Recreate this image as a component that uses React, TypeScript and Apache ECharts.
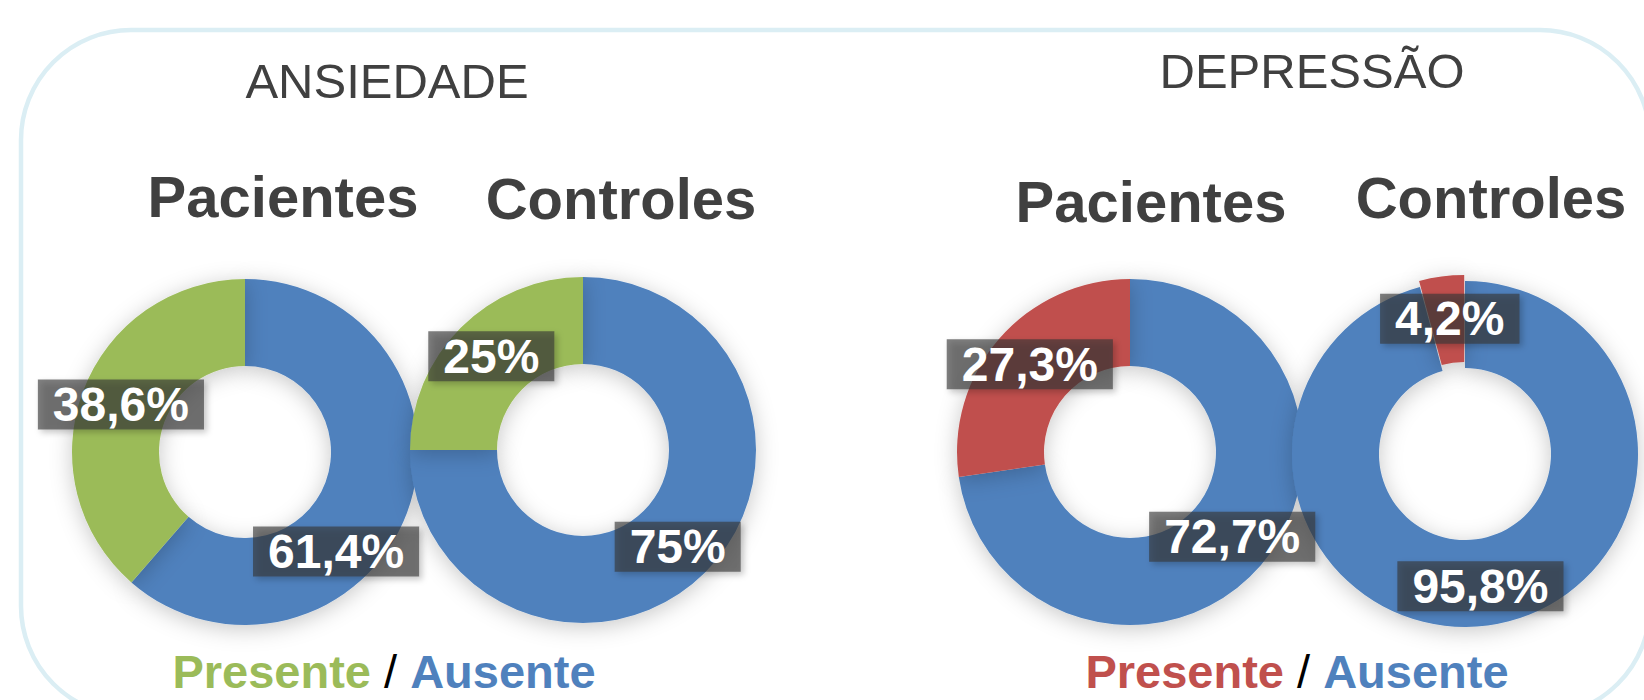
import React, { useEffect, useRef } from 'react';
import * as echarts from 'echarts';

// ---- data ----
const conditions = ['ANSIEDADE', 'DEPRESSÃO'];
const groups = ['Pacientes', 'Controles'];
const statusNames = ['Ausente', 'Presente'];
const ansiedadeAusente = [61.4, 75];
const ansiedadePresente = [38.6, 25];
const depressaoAusente = [72.7, 95.8];
const depressaoPresente = [27.3, 4.2];

// ---- styles ----
const BLUE = '#4F81BD';
const GREEN = '#9BBB59';
const RED = '#C0504D';
const DARK = '#404040';
const FONT = '"Liberation Sans", Arial, sans-serif';

// label nudges (dx, dy) per donut, per slice [Ausente, Presente]
const labelNudges: number[][][] = [
  [[-33, 53], [0, -1]],
  [[1, 3], [2, 0]],
  [[2, -2], [0, -1]],
  [[-2, 1], [3, 2]],
];

const fmt = (v: number) => String(v).replace('.', ',') + '%';

function donut(
  center: number[],
  ausente: number,
  presente: number,
  presentColor: string,
  explode: boolean,
  nudges: number[][]
) {
  return {
    type: 'pie',
    center,
    radius: [86, 173],
    startAngle: 90,
    clockwise: true,
    avoidLabelOverlap: false,
    selectedMode: explode ? 'single' : false,
    selectedOffset: 6,
    emphasis: { disabled: true },
    select: { itemStyle: {}, label: {} },
    itemStyle: {
      shadowBlur: 22,
      shadowColor: 'rgba(0,0,0,0.22)',
      shadowOffsetY: 4,
    },
    label: {
      show: true,
      position: 'inside',
      formatter: (p: any) => fmt(p.value),
      color: '#fff',
      fontSize: 48,
      fontWeight: 'bold',
      fontFamily: FONT,
      lineHeight: 46,
      textBorderWidth: 0,
      backgroundColor: 'rgba(53,53,53,0.63)',
      padding: [2, 15],
      shadowBlur: 6,
      shadowColor: 'rgba(0,0,0,0.35)',
      shadowOffsetX: 3,
      shadowOffsetY: 3,
    },
    labelLine: { show: false },
    labelLayout: (p: any) => ({ dx: nudges[p.dataIndex][0], dy: nudges[p.dataIndex][1] }),
    data: [
      { name: statusNames[0], value: ausente, itemStyle: { color: BLUE } },
      { name: statusNames[1], value: presente, selected: explode, itemStyle: { color: presentColor } },
    ],
  };
}

function legendText(x: number, y: number, presentColor: string) {
  return {
    type: 'text',
    x,
    y,
    style: {
      text: '{p|' + statusNames[1] + '}{s| / }{a|' + statusNames[0] + '}',
      align: 'center',
      verticalAlign: 'middle',
      rich: {
        p: { fill: presentColor, fontSize: 47, fontWeight: 'bold', fontFamily: FONT },
        s: { fill: '#000', fontSize: 47, fontWeight: 'normal', fontFamily: FONT },
        a: { fill: BLUE, fontSize: 47, fontWeight: 'bold', fontFamily: FONT },
      },
    },
  };
}

function textEl(text: string, x: number, y: number, size: number, weight: string) {
  return {
    type: 'text',
    x,
    y,
    style: {
      text,
      fill: DARK,
      fontSize: size,
      fontWeight: weight,
      fontFamily: FONT,
      align: 'center',
      verticalAlign: 'middle',
    },
  };
}

export default function App() {
  const ref = useRef<HTMLDivElement>(null);
  useEffect(() => {
    if (!ref.current) return;
    const chart = echarts.init(ref.current, undefined, { renderer: 'svg' });
    chart.setOption({
      animation: false,
      backgroundColor: '#fff',
      graphic: [
        {
          type: 'rect',
          z: -10,
          shape: { x: 21, y: 30, width: 1629, height: 686, r: 110 },
          style: { fill: 'none', stroke: '#DBEEF4', lineWidth: 4.5 },
        },
        textEl(conditions[0], 387, 81, 49, 'normal'),
        textEl(conditions[1], 1312, 71, 49, 'normal'),
        textEl(groups[0], 283, 196, 58, 'bold'),
        textEl(groups[1], 621, 198, 58, 'bold'),
        textEl(groups[0], 1151, 201, 58, 'bold'),
        textEl(groups[1], 1491, 197, 58, 'bold'),
        legendText(384, 671, GREEN),
        legendText(1297, 671, RED),
      ],
      series: [
        donut([245, 452], ansiedadeAusente[0], ansiedadePresente[0], GREEN, false, labelNudges[0]),
        donut([583, 450], ansiedadeAusente[1], ansiedadePresente[1], GREEN, false, labelNudges[1]),
        donut([1130, 452], depressaoAusente[0], depressaoPresente[0], RED, false, labelNudges[2]),
        donut([1465, 454], depressaoAusente[1], depressaoPresente[1], RED, true, labelNudges[3]),
      ],
    });
    return () => chart.dispose();
  }, []);
  return (
    <div
      ref={ref}
      style={{ position: 'fixed', left: 0, top: 0, width: 1644, height: 700 }}
    />
  );
}
